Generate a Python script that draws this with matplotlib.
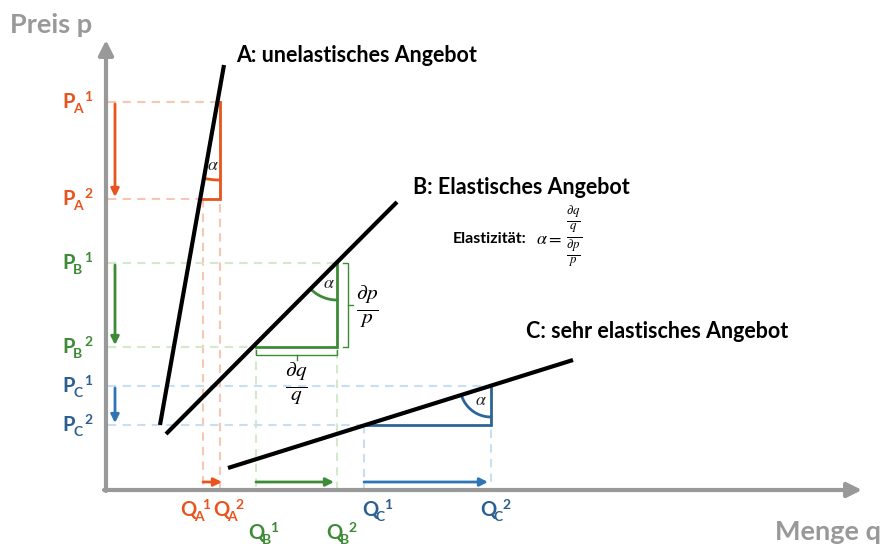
import numpy as np
import matplotlib
matplotlib.use("Agg")
import matplotlib.pyplot as plt

plt.rcParams['font.family'] = ['Lato', 'DejaVu Sans']
plt.rcParams['mathtext.fontset'] = 'stix'

# supply curves: (q0, p0, q1, p1) in canvas units, p grows downward
supply = {
    'A': [160, 425, 224, 65],
    'B': [166, 434, 397, 202],
    'C': [228, 468, 573, 360],
}
titles = {
    'A': 'A: unelastisches Angebot',
    'B': 'B: Elastisches Angebot',
    'C': 'C: sehr elastisches Angebot',
}
title_pos = {'A': (236, 55), 'B': (413, 187), 'C': (526, 331)}

# price levels p1, p2 and quantity levels q1, q2 per curve
price_levels = {'A': [102, 199], 'B': [263, 347], 'C': [386, 425]}
quantity_levels = {'A': [203, 220], 'B': [256, 337], 'C': [364, 491]}

# label rows for the quantity ticks (C and A share a row, B sits lower)
q_label_row = {'A': 510, 'B': 533, 'C': 510}
q_label_x = {'A': [180, 213], 'B': [248, 326], 'C': [362, 480]}

arc_radius = {'A': 78, 'B': 37, 'C': 31}
alpha_pos = {'A': (213, 165), 'B': (329, 283), 'C': (481, 400)}

strong = {'A': '#e9541e', 'B': '#3d8b37', 'C': '#2e6496'}
text_col = {'A': '#e9541e', 'B': '#3d8b37', 'C': '#2a5f8f'}
arrow_col = {'A': '#e9541e', 'B': '#3d8b37', 'C': '#2e75b6'}
light = {'A': '#f7c6b4', 'B': '#d2eacb', 'C': '#c8def2'}

gray = '#999999'
axis_x, axis_y = 106, 490

fig = plt.figure(figsize=(8.84, 5.44), dpi=100)
ax = fig.add_axes([0, 0, 1, 1])
ax.set_xlim(0, 884)
ax.set_ylim(544, 0)
ax.axis('off')

# axes with arrow heads
arrow_kw = dict(arrowstyle='-|>', color=gray, lw=3, mutation_scale=22, shrinkA=0, shrinkB=0)
ax.annotate('', xy=(axis_x, 40), xytext=(axis_x, axis_y + 1), arrowprops=arrow_kw)
ax.annotate('', xy=(862, axis_y), xytext=(axis_x - 2, axis_y), arrowprops=arrow_kw)
ax.text(10, 25, 'Preis p', fontsize=19.5, fontweight='bold', color=gray, va='center')
ax.text(775, 532, 'Menge q', fontsize=19.5, fontweight='bold', color=gray, va='center')


def indexed(x, y, base, sub, sup, color, sub_dx, sup_dx):
    ax.text(x, y, base, fontsize=14.5, fontweight='bold', color=color, va='center', ha='left')
    ax.text(x + sub_dx, y + 7, sub, fontsize=10, fontweight='bold', color=color, va='center', ha='left')
    ax.text(x + sup_dx, y - 5, sup, fontsize=10, fontweight='bold', color=color, va='center', ha='left')


dash = (0, (4, 3))
for k in ['A', 'B', 'C']:
    p1, p2 = price_levels[k]
    q1, q2 = quantity_levels[k]

    # dashed guides to the axes
    ax.plot([axis_x + 2, q2], [p1, p1], color=light[k], lw=1.5, ls=dash, zorder=1)
    ax.plot([axis_x + 2, q1], [p2, p2], color=light[k], lw=1.5, ls=dash, zorder=1)
    ax.plot([q2, q2], [p1, axis_y - 2], color=light[k], lw=1.5, ls=dash, zorder=1)
    ax.plot([q1, q1], [p2, axis_y - 2], color=light[k], lw=1.5, ls=dash, zorder=1)

    # triangle legs
    ax.plot([q2, q2, q1], [p1, p2, p2], color=strong[k], lw=2, zorder=3,
            solid_joinstyle='miter')

    # angle arc between the curve and the vertical leg
    x0, y0, x1, y1 = supply[k]
    a_line = np.arctan2(y0 - y1, x0 - x1)
    t = np.linspace(np.pi / 2, a_line, 40)
    r = arc_radius[k]
    ax.plot(q2 + r * np.cos(t), p1 + r * np.sin(t), color=strong[k], lw=2, zorder=3)
    ax.text(*alpha_pos[k], r'$\alpha$', fontsize=13, color='#222222', ha='center', va='center', zorder=4)

    # shift arrows along the axes
    small = dict(arrowstyle='-|>', color=arrow_col[k], lw=2, mutation_scale=12, shrinkA=0, shrinkB=0)
    ax.annotate('', xy=(115, p2 - 2), xytext=(115, p1 + 2), arrowprops=small)
    ax.annotate('', xy=(q2 + 2 if k == 'A' else q2 - 3, 482), xytext=(q1, 482), arrowprops=small)

    # tick labels
    indexed(62, p1, 'P', k, '1', text_col[k], 11, 22)
    indexed(62, p2, 'P', k, '2', text_col[k], 11, 22)
    qa, qb = q_label_x[k]
    indexed(qa, q_label_row[k], 'Q', k, '1', text_col[k], 14, 22)
    indexed(qb, q_label_row[k], 'Q', k, '2', text_col[k], 14, 22)

    # supply curve and its title
    ax.plot([x0, x1], [y0, y1], color='black', lw=3, solid_capstyle='butt', zorder=5)
    ax.text(*title_pos[k], titles[k], fontsize=15.5, fontweight='bold', color='black', va='center')

# brackets marking the relative changes on curve B
pb1, pb2 = price_levels['B']
qb1, qb2 = quantity_levels['B']
g = strong['B']
ax.plot([343, 348, 348, 343], [pb1, pb1, pb2, pb2], color=g, lw=1)
ax.plot([348, 353], [(pb1 + pb2) / 2] * 2, color=g, lw=1)
ax.plot([qb1, qb1, qb2, qb2], [350, 355, 355, 350], color=g, lw=1)
ax.plot([(qb1 + qb2) / 2] * 2, [355, 360], color=g, lw=1)
ax.text(367, (pb1 + pb2) / 2 + 2, r'$\frac{\partial p}{p}$', fontsize=22, ha='center', va='center')
ax.text((qb1 + qb2) / 2, 384, r'$\frac{\partial q}{q}$', fontsize=22, ha='center', va='center')

# elasticity definition
ax.text(453, 239, 'Elastizität:', fontsize=11.5, fontweight='bold', va='center')
ax.text(536, 239, r'$\alpha =$', fontsize=13, va='center')
ax.text(566, 237, r'$\frac{\frac{\partial q}{q}}{\frac{\partial p}{p}}$', fontsize=19, va='center')

fig.savefig('out.png', dpi=100)
